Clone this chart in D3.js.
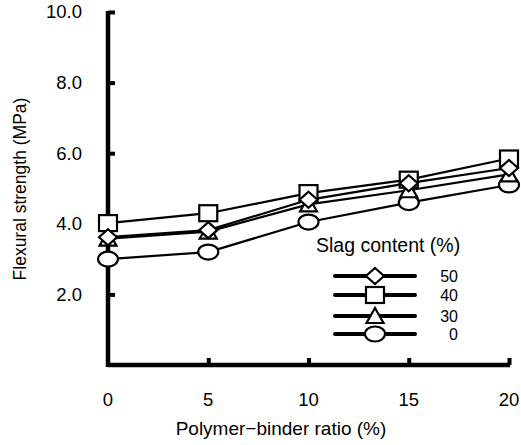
<!DOCTYPE html>
<html>
<head>
<meta charset="utf-8">
<script src="https://cdn.jsdelivr.net/npm/d3@7"></script>
<style>
	html, body { margin: 0; background: #fff; }
	svg { display: block; font-family: 'Liberation Sans', Arial, sans-serif; }
</style>
</head>
<body>
<svg id="chart" width="521" height="445"></svg>
<script>
// polymer-binder ratio (%)
const ratios = [0, 5, 10, 15, 20]
const xTicks = [0, 5, 10, 15, 20]
const yTicks = [2, 4, 6, 8, 10]

// flexural strength (MPa) by slag content
const slag50 = [3.62, 3.82, 4.68, 5.15, 5.58]
const slag40 = [4.02, 4.3, 4.87, 5.25, 5.85]
const slag30 = [3.58, 3.78, 4.55, 4.95, 5.4]
const slag0 = [3.0, 3.2, 4.05, 4.6, 5.1]

const seriesNames = ['50', '40', '30', '0']
const seriesValues = [slag50, slag40, slag30, slag0]
const seriesSymbols = ['diamond', 'square', 'triangle', 'circle']

const svg = d3.select('#chart')

const x = d3.scaleLinear().domain([0, 20]).range([108, 509])
const y = d3.scaleLinear().domain([0, 10]).range([365, 12])

// symbol drawing: white fill, black outline
function drawSymbol(g, kind, cx, cy) {
	const s = g.append('g').attr('transform', `translate(${cx},${cy})`)
	const common = sel => sel.attr('fill', '#fff').attr('stroke', '#000').attr('stroke-width', 2.2)
	if (kind === 'square') {
		s.append('rect').attr('x', -9).attr('y', -8).attr('width', 18).attr('height', 16).call(common)
	} else if (kind === 'circle') {
		s.append('ellipse').attr('rx', 10).attr('ry', 7.5).call(common)
	} else if (kind === 'diamond') {
		s.append('path').attr('d', 'M0,-8L9,0L0,8L-9,0Z').call(common)
	} else if (kind === 'triangle') {
		s.append('path').attr('d', 'M0,-8L8.5,7L-8.5,7Z').call(common)
	}
}

// axes
const yAxis = svg.append('g').attr('transform', `translate(${x(0)},0)`)
	.call(d3.axisRight(y).tickValues(yTicks).tickSize(7).tickFormat(''))
yAxis.select('.domain').remove()
yAxis.selectAll('.tick line').attr('stroke', '#000').attr('stroke-width', 4)
yAxis.append('line').attr('x1', 0).attr('x2', 0).attr('y1', y(10) - 1).attr('y2', y(0) + 2)
	.attr('stroke', '#000').attr('stroke-width', 4.5)

const xAxis = svg.append('g').attr('transform', `translate(0,${y(0)})`)
	.call(d3.axisTop(x).tickValues(xTicks.slice(1)).tickSize(7).tickFormat(''))
xAxis.select('.domain').remove()
xAxis.selectAll('.tick line').attr('stroke', '#000').attr('stroke-width', 4)
xAxis.append('line').attr('x1', x(0)).attr('x2', x(20) + 1).attr('y1', 0).attr('y2', 0)
	.attr('stroke', '#000').attr('stroke-width', 4.5)

// tick labels
svg.append('g').selectAll('text').data(yTicks).join('text')
	.attr('x', 82).attr('y', d => y(d)).attr('dy', '0.35em')
	.attr('text-anchor', 'end').attr('font-size', 18.5)
	.text(d => d.toFixed(1))
svg.append('g').selectAll('text').data(xTicks).join('text')
	.attr('x', d => x(d)).attr('y', 400).attr('dy', '0.35em')
	.attr('text-anchor', 'middle').attr('font-size', 18.5)
	.text(d => d)

// axis titles
svg.append('text').attr('x', 281).attr('y', 435)
	.attr('text-anchor', 'middle').attr('font-size', 19)
	.text('Polymer\u2212binder ratio (%)')
svg.append('text').attr('transform', 'translate(26,189) rotate(-90)')
	.attr('text-anchor', 'middle').attr('font-size', 17.5)
	.text('Flexural strength (MPa)')

// series lines then markers
const line = d3.line().x((d, i) => x(ratios[i])).y(d => y(d))
const plot = svg.append('g')
seriesValues.forEach(vals => {
	plot.append('path').attr('d', line(vals)).attr('fill', 'none')
		.attr('stroke', '#000').attr('stroke-width', 2.2)
})
// draw order so square sits behind diamond
const order = [3, 2, 1, 0]
order.forEach(k => {
	seriesValues[k].forEach((v, i) => drawSymbol(plot, seriesSymbols[k], x(ratios[i]), y(v)))
})

// legend
const legend = svg.append('g')
legend.append('text').attr('x', 316).attr('y', 252).attr('font-size', 19.5).text('Slag content (%)')
const legendY = [276, 295, 316, 334]
seriesNames.forEach((name, k) => {
	legend.append('line').attr('x1', 335).attr('x2', 415).attr('y1', legendY[k]).attr('y2', legendY[k])
		.attr('stroke', '#000').attr('stroke-width', 4).attr('stroke-linecap', 'round')
	drawSymbol(legend, seriesSymbols[k], 375, legendY[k])
	legend.append('text').attr('x', 458).attr('y', legendY[k]).attr('dy', '0.35em')
		.attr('text-anchor', 'end').attr('font-size', 16).text(name)
})
</script>
</body>
</html>
